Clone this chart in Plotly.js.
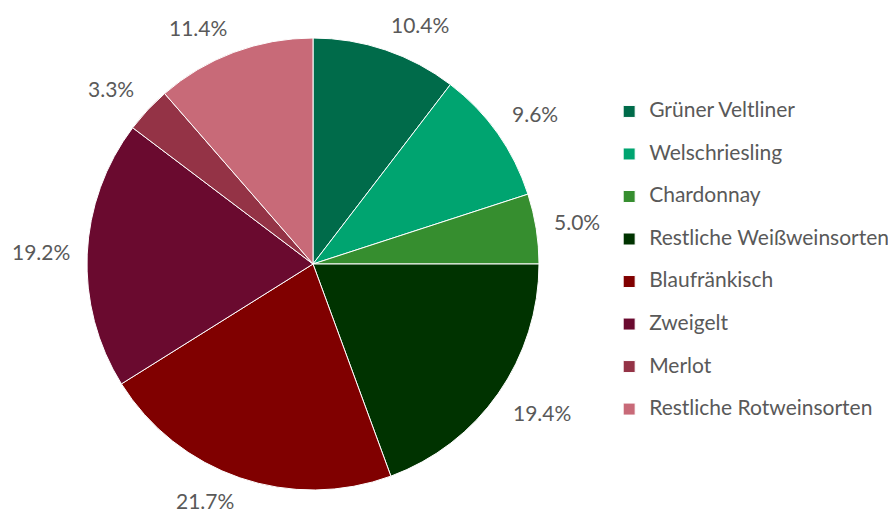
<!DOCTYPE html>
<html><head><meta charset="utf-8">
<script src="https://cdn.plot.ly/plotly-3.0.1.min.js"></script>
<style>body{margin:0;background:#fff}#chart{width:888px;height:514px}</style>
</head><body><div id="chart"></div>
<script>
const labels = ["Grüner Veltliner","Welschriesling","Chardonnay","Restliche Weißweinsorten","Blaufränkisch","Zweigelt","Merlot","Restliche Rotweinsorten"];
const values = [10.4, 9.6, 5.0, 19.4, 21.7, 19.2, 3.3, 11.4];
const colors = ["#006B4A","#00A470","#368E2F","#003300","#800000","#6A0A2F","#943346","#C86A78"];

const W = 888, H = 514;
const cxPx = 313, cyPx = 264, rPx = 226;
const dom = {x:[(cxPx-rPx)/W,(cxPx+rPx)/W], y:[(H-cyPx-rPx)/H,(H-cyPx+rPx)/H]};
const FONT = 'Lato, sans-serif';
const TXT = '#595959';

const total = values.reduce((a,b)=>a+b,0);
const clamp = v => Math.max(-1, Math.min(1, v));
const annotations = [];
let cum = 0;
const anchorR = rPx + 15;
values.forEach(v=>{
  const mid = (cum + v/2)/total*2*Math.PI;
  cum += v;
  const dx = Math.sin(mid), dy = -Math.cos(mid); // dy in screen (down positive)
  const txt = v.toFixed(1)+'%';
  const wHalf = txt.length*11/2 + 3.5, hHalf = 11;
  const px = cxPx + dx*anchorR + clamp(3*dx)*wHalf;
  const py = Math.min(H - 14, cyPx + dy*anchorR + clamp(3*dy)*hHalf);
  annotations.push({
    xref:'paper', yref:'paper', x: px/W, y: 1 - py/H,
    text: txt, showarrow:false, xanchor:'center', yanchor:'middle', borderpad:0,
    font:{family:FONT, size:21, color:TXT}
  });
});

const trace = {
  type:'pie',
  labels: labels.map(l=>'<span style="font-size:21px">'+l+'</span><br> '),
  values, sort:false, direction:'clockwise', rotation:0,
  marker:{colors, line:{color:'#ffffff', width:1}},
  textinfo:'none', hoverinfo:'label+percent', domain: dom
};
Plotly.newPlot('chart',[trace],{
  width:W, height:H, margin:{l:0,r:0,t:0,b:0, autoexpand:false},
  paper_bgcolor:'#fff', showlegend:true,
  legend:{x:0.686, y:0.4736, xanchor:'left', yanchor:'middle', valign:'top',
    font:{family:FONT, size:15.2, color:TXT}},
  annotations
},{displayModeBar:false});
</script></body></html>
